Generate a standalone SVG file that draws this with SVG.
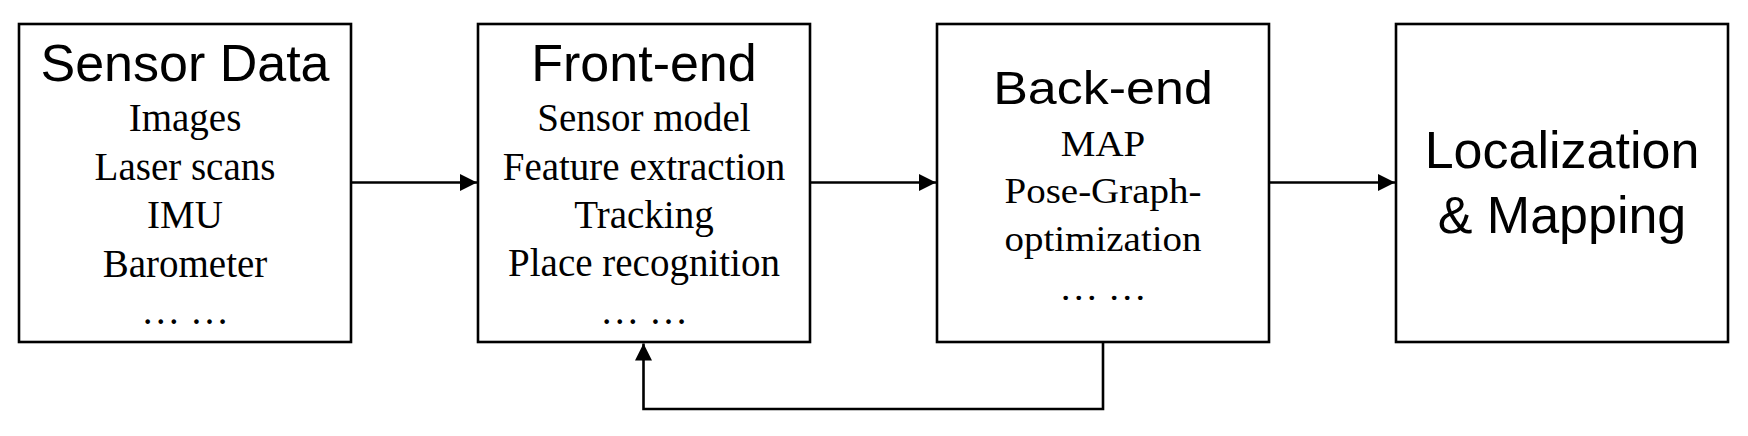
<svg xmlns="http://www.w3.org/2000/svg" width="1748" height="436" viewBox="0 0 1748 436">
<style>
.box{fill:#fff;stroke:#000;stroke-width:2.6}
.title{font-family:"Liberation Sans",Arial,sans-serif;font-size:52px;text-anchor:middle;fill:#000}
.item{font-family:"Liberation Serif","Times New Roman",serif;font-size:39px;text-anchor:middle;fill:#000}
.conn{fill:none;stroke:#000;stroke-width:2.6}
</style>
<defs>
<marker id="arr" markerUnits="userSpaceOnUse" markerWidth="18" markerHeight="18" refX="17" refY="8.5" orient="auto" viewBox="0 0 18 18">
<path d="M0,0 L17,8.5 L0,17 z" fill="#000"/>
</marker>
</defs>
<rect width="1748" height="436" fill="#fff"/>
<g id="connectors">
<line class="conn" x1="351" y1="182.5" x2="477" y2="182.5" marker-end="url(#arr)"/>
<line class="conn" x1="810" y1="182.5" x2="936" y2="182.5" marker-end="url(#arr)"/>
<line class="conn" x1="1269" y1="182.5" x2="1395" y2="182.5" marker-end="url(#arr)"/>
<polyline class="conn" points="1103,342 1103,409 643.5,409 643.5,343.5" marker-end="url(#arr)"/>
</g>
<g id="sensor-data">
<rect class="box" x="19" y="24" width="332" height="318"/>
<text class="title" x="185" y="81">Sensor Data</text>
<text class="item" x="185" y="131">Images</text>
<text class="item" x="185" y="180">Laser scans</text>
<text class="item" x="185" y="228">IMU</text>
<text class="item" x="185" y="277">Barometer</text>
<text class="item" x="185" y="324">… …</text>
</g>
<g id="front-end">
<rect class="box" x="478" y="24" width="332" height="318"/>
<text class="title" x="644" y="81">Front-end</text>
<text class="item" x="644" y="131">Sensor model</text>
<text class="item" x="644" y="180">Feature extraction</text>
<text class="item" x="644" y="228">Tracking</text>
<text class="item" x="644" y="276">Place recognition</text>
<text class="item" x="644" y="324">… …</text>
</g>
<g id="back-end">
<rect class="box" x="937" y="24" width="332" height="318"/>
<text class="title" transform="translate(1103,104) scale(1,0.9)">Back-end</text>
<text class="item" transform="translate(1103,156) scale(1,0.9)">MAP</text>
<text class="item" transform="translate(1103,203) scale(1,0.9)">Pose-Graph-</text>
<text class="item" transform="translate(1103,251) scale(1,0.9)">optimization</text>
<text class="item" transform="translate(1103,300) scale(1,0.9)">… …</text>
</g>
<g id="localization-mapping">
<rect class="box" x="1396" y="24" width="332" height="318"/>
<text class="title" x="1562" y="168">Localization</text>
<text class="title" x="1562" y="233">&amp; Mapping</text>
</g>
</svg>
